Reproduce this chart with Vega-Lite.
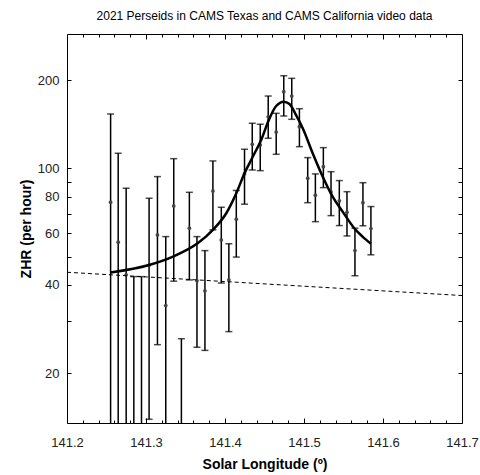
{
  "$schema": "https://vega.github.io/schema/vega-lite/v6.json",
  "width": 395,
  "height": 389,
  "autosize": {"type": "none"},
  "padding": {"left": 67, "top": 34, "right": 18, "bottom": 52},
  "title": {"text": "2021 Perseids in CAMS Texas and CAMS California video data", "fontSize": 12, "font": "Liberation Sans", "fontWeight": "normal", "color": "#000", "offset": 11},
  "config": {
    "view": {"stroke": "#000", "strokeWidth": 1},
    "axis": {"domain": false, "grid": false, "labelFont": "Liberation Sans", "titleFont": "Liberation Sans", "tickColor": "#000", "labelColor": "#222", "titleColor": "#000"}
  },
  "datasets": {
    "obs": [
      {"sl": 141.2552, "zhr": 76.7, "hi": 153.5, "lo": 5},
      {"sl": 141.2648, "zhr": 56.0, "hi": 112.7, "lo": 5},
      {"sl": 141.2749, "zhr": 43.3, "hi": 85.6, "lo": 5},
      {"sl": 141.2846, "zhr": null, "hi": 42.7, "lo": 5},
      {"sl": 141.2943, "zhr": null, "hi": 42.7, "lo": 5},
      {"sl": 141.3039, "zhr": 46.7, "hi": 79.1, "lo": 13.9},
      {"sl": 141.3145, "zhr": 59.3, "hi": 93.8, "lo": 25.0},
      {"sl": 141.325, "zhr": 34.0, "hi": 58.5, "lo": 5},
      {"sl": 141.3351, "zhr": 74.5, "hi": 108.0, "lo": 41.2},
      {"sl": 141.3448, "zhr": null, "hi": 26.2, "lo": 5},
      {"sl": 141.3549, "zhr": 62.5, "hi": 82.9, "lo": 41.6},
      {"sl": 141.3645, "zhr": 41.3, "hi": 58.5, "lo": 24.5},
      {"sl": 141.3746, "zhr": 38.2, "hi": 52.4, "lo": 23.9},
      {"sl": 141.3847, "zhr": 83.8, "hi": 106.1, "lo": 61.7},
      {"sl": 141.3953, "zhr": 57.0, "hi": 73.7, "lo": 40.6},
      {"sl": 141.4049, "zhr": 41.6, "hi": 55.3, "lo": 27.7},
      {"sl": 141.4143, "zhr": 67.1, "hi": 84.1, "lo": 49.8},
      {"sl": 141.4247, "zhr": 95.8, "hi": 116.3, "lo": 75.5},
      {"sl": 141.4345, "zhr": 120.9, "hi": 142.7, "lo": 98.8},
      {"sl": 141.4446, "zhr": 120.3, "hi": 141.6, "lo": 98.3},
      {"sl": 141.4547, "zhr": 150.2, "hi": 176.8, "lo": 126.8},
      {"sl": 141.4648, "zhr": 133.2, "hi": 154.3, "lo": 111.8},
      {"sl": 141.4744, "zhr": 182.9, "hi": 207.4, "lo": 151.1},
      {"sl": 141.4845, "zhr": 176.8, "hi": 203.2, "lo": 147.2},
      {"sl": 141.4942, "zhr": 138.9, "hi": 160.0, "lo": 118.7},
      {"sl": 141.5047, "zhr": 92.6, "hi": 108.9, "lo": 76.4},
      {"sl": 141.5144, "zhr": 81.0, "hi": 95.8, "lo": 65.8},
      {"sl": 141.5245, "zhr": 101.4, "hi": 117.8, "lo": 86.0},
      {"sl": 141.5342, "zhr": 83.1, "hi": 97.5, "lo": 69.0},
      {"sl": 141.5447, "zhr": 77.5, "hi": 90.9, "lo": 63.8},
      {"sl": 141.5544, "zhr": 70.9, "hi": 83.3, "lo": 58.8},
      {"sl": 141.5645, "zhr": 52.4, "hi": 62.5, "lo": 43.0},
      {"sl": 141.5746, "zhr": 76.4, "hi": 89.4, "lo": 63.7},
      {"sl": 141.5847, "zhr": 62.3, "hi": 74.1, "lo": 50.7}
    ],
    "fit": [
      {"sl": 141.2552, "zhr": 44.1},
      {"sl": 141.3039, "zhr": 46.8},
      {"sl": 141.3342, "zhr": 50.0},
      {"sl": 141.3658, "zhr": 55.6},
      {"sl": 141.3847, "zhr": 61.7},
      {"sl": 141.4016, "zhr": 70.3},
      {"sl": 141.4143, "zhr": 82.3},
      {"sl": 141.4247, "zhr": 96.3},
      {"sl": 141.4352, "zhr": 109.7},
      {"sl": 141.4458, "zhr": 125.1},
      {"sl": 141.4563, "zhr": 148.3},
      {"sl": 141.4648, "zhr": 163.4},
      {"sl": 141.4744, "zhr": 169.0},
      {"sl": 141.4816, "zhr": 166.0},
      {"sl": 141.49, "zhr": 152.2},
      {"sl": 141.4984, "zhr": 137.2},
      {"sl": 141.511, "zhr": 112.7},
      {"sl": 141.5236, "zhr": 93.8},
      {"sl": 141.5362, "zhr": 80.1},
      {"sl": 141.5489, "zhr": 71.2},
      {"sl": 141.5636, "zhr": 62.5},
      {"sl": 141.5741, "zhr": 58.5},
      {"sl": 141.5847, "zhr": 55.3}
    ],
    "background": [
      {"sl": 141.2, "zhr": 44.2},
      {"sl": 141.7, "zhr": 36.8}
    ]
  },
  "resolve": {"axis": {"x": "independent", "y": "independent"}},
  "layer": [
    {
      "data": {"name": "obs"},
      "mark": {"type": "rule", "color": "#000", "strokeWidth": 1.5, "clip": true},
      "encoding": {
        "x": {"field": "sl", "type": "quantitative", "scale": {"domain": [141.2, 141.7], "nice": false, "zero": false},
          "axis": {"orient": "bottom", "values": [141.2, 141.3, 141.4, 141.5, 141.6, 141.7], "format": ".1f", "tickSize": -5, "labelPadding": 18, "labelFontSize": 13, "labelFlush": false, "title": "Solar Longitude (º)", "titleFontSize": 14, "titleFontWeight": "bold", "titlePadding": 8}},
        "y": {"field": "lo", "type": "quantitative", "scale": {"type": "log", "domain": [13.5, 288], "nice": false},
          "axis": {"orient": "left", "values": [20, 30, 40, 50, 60, 70, 80, 90, 100, 200], "labelExpr": "(datum.value == 20 || datum.value == 40 || datum.value == 60 || datum.value == 80 || datum.value == 100 || datum.value == 200) ? datum.label : ''", "tickSize": -4, "labelPadding": 12, "labelFontSize": 13, "title": "ZHR (per hour)", "titleFontSize": 14, "titleFontWeight": "bold", "titlePadding": 4}},
        "y2": {"field": "hi"}
      }
    },
    {
      "data": {"name": "obs"},
      "mark": {"type": "tick", "orient": "horizontal", "color": "#000", "size": 7, "thickness": 1.5, "clip": true},
      "encoding": {
        "x": {"field": "sl", "type": "quantitative",
          "axis": {"orient": "bottom", "values": [141.22, 141.24, 141.26, 141.28, 141.32, 141.34, 141.36, 141.38, 141.42, 141.44, 141.46, 141.48, 141.52, 141.54, 141.56, 141.58, 141.62, 141.64, 141.66, 141.68], "tickSize": -3, "labels": false, "title": null}},
        "y": {"field": "hi", "type": "quantitative",
          "axis": {"orient": "right", "values": [20, 30, 40, 50, 60, 70, 80, 90, 100, 200], "tickSize": -4, "labels": false, "title": null}}
      }
    },
    {
      "data": {"name": "obs"},
      "mark": {"type": "tick", "orient": "horizontal", "color": "#000", "size": 7, "thickness": 1.5, "clip": true},
      "encoding": {
        "x": {"field": "sl", "type": "quantitative",
          "axis": {"orient": "top", "values": [141.3, 141.4, 141.5, 141.6], "tickSize": -5, "labels": false, "title": null}},
        "y": {"field": "lo", "type": "quantitative", "axis": null}
      }
    },
    {
      "data": {"name": "obs"},
      "mark": {"type": "point", "filled": true, "color": "#444", "size": 14, "opacity": 1, "clip": true},
      "encoding": {
        "x": {"field": "sl", "type": "quantitative",
          "axis": {"orient": "top", "values": [141.22, 141.24, 141.26, 141.28, 141.32, 141.34, 141.36, 141.38, 141.42, 141.44, 141.46, 141.48, 141.52, 141.54, 141.56, 141.58, 141.62, 141.64, 141.66, 141.68], "tickSize": -3, "labels": false, "title": null}},
        "y": {"field": "zhr", "type": "quantitative", "axis": null}
      }
    },
    {
      "data": {"name": "fit"},
      "mark": {"type": "line", "color": "#000", "strokeWidth": 2.5, "interpolate": "monotone", "clip": true},
      "encoding": {
        "x": {"field": "sl", "type": "quantitative", "axis": null},
        "y": {"field": "zhr", "type": "quantitative", "axis": null}
      }
    },
    {
      "data": {"name": "background"},
      "mark": {"type": "line", "color": "#000", "strokeWidth": 1, "strokeDash": [4, 3], "clip": true},
      "encoding": {
        "x": {"field": "sl", "type": "quantitative", "axis": null},
        "y": {"field": "zhr", "type": "quantitative", "axis": null}
      }
    }
  ]
}
